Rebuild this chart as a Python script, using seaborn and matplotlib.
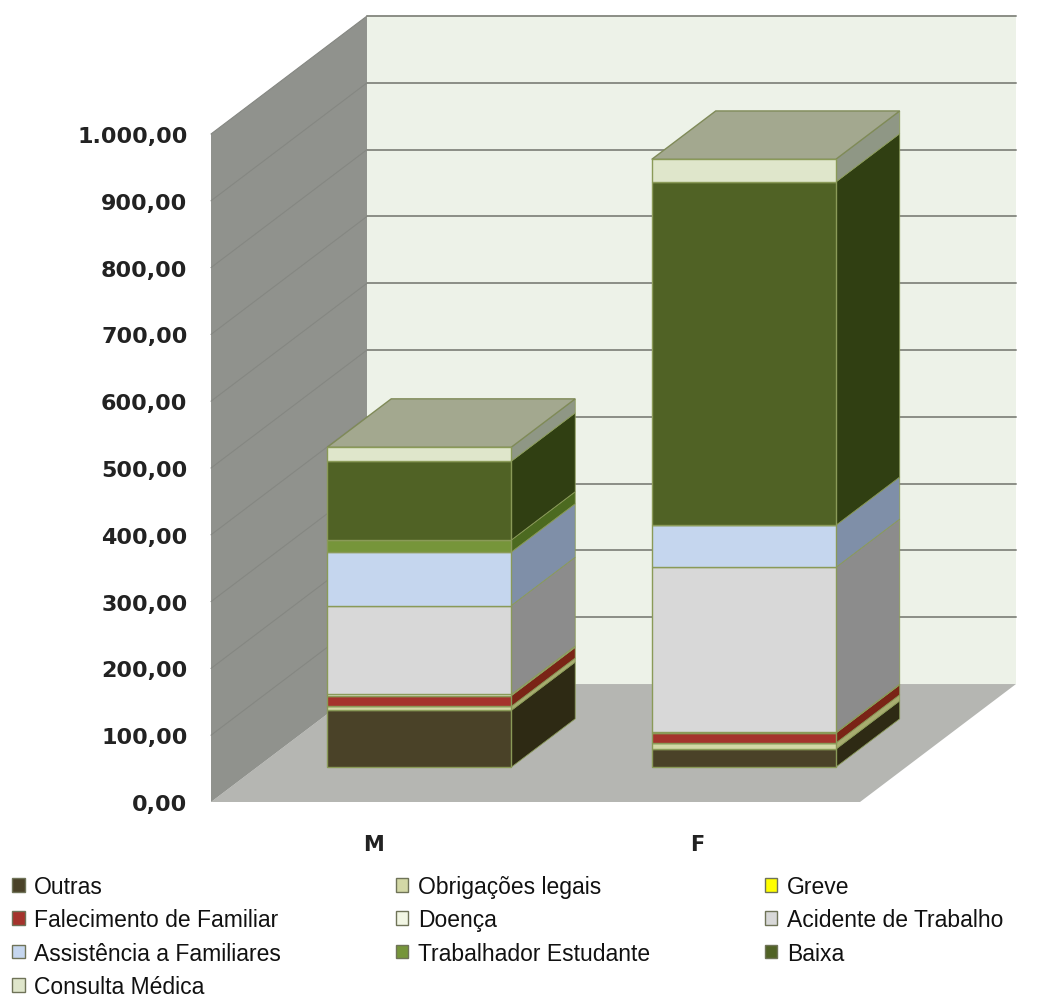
# plot.py - stacked "3D" columns of absences by gender
import numpy as np
import seaborn as sns
import matplotlib.pyplot as plt
from matplotlib.patches import Patch

genders = ["M", "F"]
series_names = ["Outras", "Obrigações legais", "Greve", "Falecimento de Familiar", "Doença",
                "Acidente de Trabalho", "Assistência a Familiares", "Trabalhador Estudante",
                "Baixa", "Consulta Médica"]

outras = [85, 27]
obrigacoes = [6, 9]
greve = [0, 0]
falecimento = [16, 15]
doenca = [2, 1]
acidente = [133, 247]
assistencia = [80, 63]
trabalhador = [18, 0]
baixa = [118, 514]
consulta = [21, 34]

tick_values = [0, 100, 200, 300, 400, 500, 600, 700, 800, 900, 1000]
tick_labels = ["0,00", "100,00", "200,00", "300,00", "400,00", "500,00",
               "600,00", "700,00", "800,00", "900,00", "1.000,00"]

front_colors = ["#4a4228", "#d3d8a6", "#ffff00", "#a5332c", "#f2f6e4",
                "#d8d8d8", "#c5d6ee", "#76953a", "#506225", "#dfe6cb"]
side_colors = ["#2e2a14", "#a8ad70", "#b0b000", "#7a2416", "#b5b8a5",
               "#8c8c8c", "#7f8fa8", "#4c6a20", "#303f12", "#8f9785"]

series_values = [outras, obrigacoes, greve, falecimento, doenca,
                 acidente, assistencia, trabalhador, baixa, consulta]

sns.set_style("white")
plt.rcParams["font.family"] = ["DejaVu Sans"]

fig = plt.figure(figsize=(10.38, 10.03), dpi=100)
ax = fig.add_axes([211 / 1038, 1 - 803 / 1003, 649 / 1038, 668 / 1003])

# depth of the box, in data units
depth_x = 0.4807
depth_y = 176.6
bar_width = 0.567
front_frac = 0.295
back_frac = 0.705
x_min, x_max = -0.5, 1.5
y_top = tick_values[-1]


def fill(xs, ys, color, z, edge="none", lw=0):
    ax.fill(xs, ys, facecolor=color, edgecolor=edge, linewidth=lw, zorder=z, clip_on=False)


# floor and walls
fill([x_min, x_max, x_max + depth_x, x_min + depth_x], [0, 0, depth_y, depth_y], "#b5b6b2", 0)
fill([x_min, x_min, x_min + depth_x, x_min + depth_x],
     [0, y_top, y_top + depth_y, depth_y], "#90928d", 0)
fill([x_min + depth_x, x_max + depth_x, x_max + depth_x, x_min + depth_x],
     [depth_y, depth_y, y_top + depth_y, y_top + depth_y], "#edf2e8", 0)

for t in tick_values[1:]:
    ax.plot([x_min + depth_x, x_max + depth_x], [t + depth_y, t + depth_y],
            color="#8b8e86", lw=1.4, zorder=0.5, clip_on=False)
    ax.plot([x_min, x_min + depth_x], [t, t + depth_y],
            color="#858782", lw=0.8, zorder=0.5, clip_on=False)

# front faces through seaborn, side and top faces from the same values
x_pos = np.arange(len(genders)) + depth_x * front_frac
y_shift = depth_y * front_frac
step_x = depth_x * (back_frac - front_frac)
step_y = depth_y * (back_frac - front_frac)
edge_col = "#8a9a58"

bottom = np.zeros(len(genders))
for vals, fc, sc in zip(series_values, front_colors, side_colors):
    vals = np.array(vals, dtype=float)
    sns.barplot(x=x_pos, y=vals, bottom=bottom + y_shift, native_scale=True, width=bar_width,
                color=fc, saturation=1, edgecolor=edge_col, linewidth=1, errorbar=None,
                ax=ax, zorder=3)
    for xp, b, v in zip(x_pos, bottom, vals):
        if v > 0:
            xr = xp + bar_width / 2
            lo = b + y_shift
            fill([xr, xr + step_x, xr + step_x, xr],
                 [lo, lo + step_y, lo + v + step_y, lo + v], sc, 2, edge_col, 0.6)
    bottom = bottom + vals

for xp, total in zip(x_pos, bottom):
    xl, xr = xp - bar_width / 2, xp + bar_width / 2
    lo = total + y_shift
    fill([xl, xr, xr + step_x, xl + step_x], [lo, lo, lo + step_y, lo + step_y],
         "#a3a88f", 2, "#7f8a58", 1)

ax.set_xlim(x_min, x_max)
ax.set_ylim(0, y_top)
ax.set_xticks(range(len(genders)))
ax.set_xticklabels(genders)
ax.set_yticks(tick_values)
ax.set_yticklabels(tick_labels)
ax.set_xlabel("")
ax.set_ylabel("")
ax.tick_params(axis="y", length=0, pad=17, labelsize=16, labelcolor="#222222")
ax.tick_params(axis="x", length=0, pad=23, labelsize=15, labelcolor="#222222")
for lab in ax.get_yticklabels() + ax.get_xticklabels():
    lab.set_fontweight("bold")
sns.despine(ax=ax, left=True, bottom=True)

handles = [Patch(facecolor=c, edgecolor="#6f7358", linewidth=1) for c in front_colors]
# matplotlib fills columns first, so reorder the entries to read row by row
order = [0, 3, 6, 9, 1, 4, 7, 2, 5, 8]
fig.legend([handles[i] for i in order], [series_names[i] for i in order],
           ncol=3, loc="upper left", bbox_to_anchor=(12 / 1038, 1 - 876 / 1003),
           frameon=False, borderpad=0, borderaxespad=0,
           handlelength=0.55, handleheight=0.55, handletextpad=0.42,
           labelspacing=0.45, columnspacing=5.0, labelcolor="#111111",
           prop={"family": ["Liberation Sans"], "size": 16.5})

fig.savefig("out.png", dpi=100)
plt.close(fig)
